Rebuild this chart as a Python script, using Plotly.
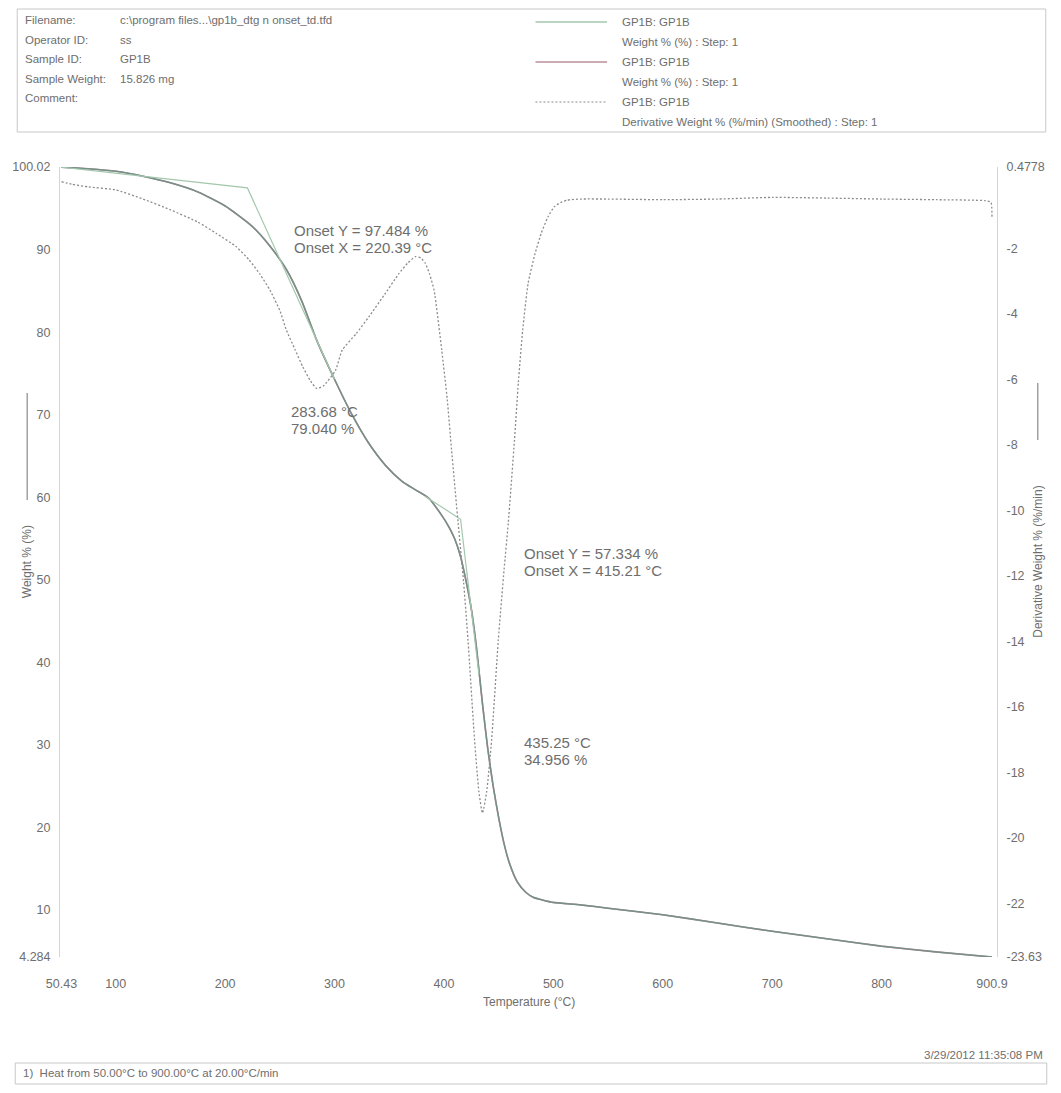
import plotly.graph_objects as go

# ---------------- data ----------------
temp_wt = [50.43, 75, 100, 125, 150, 175, 200, 225, 240, 256, 270, 283.68, 300, 316, 331,
           347, 362, 374, 386, 398, 405, 410, 415, 420, 425, 430, 435.25, 440, 445, 450,
           455, 460, 467, 475, 482, 490, 500, 525, 550, 600, 650, 700, 750, 800, 850, 900.9]
weight_pct = [100.0, 99.8, 99.5, 98.9, 98.1, 97.0, 95.3, 92.8, 90.6, 87.6, 83.8, 79.04, 74.3, 70.0, 66.6,
              63.8, 61.9, 60.9, 59.9, 57.8, 56.3, 54.9, 52.9, 50.0, 46.5, 41.5, 34.956, 29.6, 25.0, 21.2,
              18.0, 15.6, 13.4, 12.1, 11.5, 11.2, 10.9, 10.6, 10.2, 9.4, 8.4, 7.4, 6.5, 5.6, 4.9, 4.284]

temp_dtg = [50.43, 60, 75, 100, 125, 150, 175, 192, 210, 222, 232, 241, 250, 256, 264, 271, 278,
            283.68, 290, 301, 307, 320, 331.5, 345, 359, 367, 374, 379, 383, 387, 391, 398, 403,
            407, 413, 418, 422, 428, 432, 435.25, 439, 443.6, 449.7, 455, 458.8, 464.5, 468, 472,
            477, 483, 489, 495, 501, 507, 513, 525, 550, 600, 650, 700, 750, 800, 850, 895, 900, 900.9]
deriv_wt = [0.03, -0.05, -0.13, -0.22, -0.5, -0.83, -1.2, -1.55, -1.95, -2.36, -2.8, -3.28, -3.9,
            -4.5, -5.1, -5.62, -6.05, -6.28, -6.2, -5.72, -5.11, -4.6, -4.09, -3.45, -2.77, -2.45,
            -2.26, -2.3, -2.46, -2.8, -3.28, -5.11, -6.6, -8.16, -10.39, -12.2, -13.96, -17.01,
            -18.6, -19.24, -18.6, -17.01, -13.96, -11.8, -10.39, -7.85, -6.11, -4.5, -3.06, -2.2,
            -1.54, -1.05, -0.73, -0.6, -0.53, -0.5, -0.5, -0.52, -0.5, -0.45, -0.47, -0.5, -0.52,
            -0.55, -0.6, -1.05]

onset1_x = [50.43, 220.39, 300.0]
onset1_y = [100.0, 97.484, 74.3]
onset2_x = [383.0, 415.21, 432.0]
onset2_y = [60.1, 57.334, 38.5]

x_tickvals = [50.43, 100, 200, 300, 400, 500, 600, 700, 800, 900.9]
x_ticktext = ["50.43", "100", "200", "300", "400", "500", "600", "700", "800", "900.9"]
y_tickvals = [4.284, 10, 20, 30, 40, 50, 60, 70, 80, 90, 100.02]
y_ticktext = ["4.284", "10", "20", "30", "40", "50", "60", "70", "80", "90", "100.02"]
y2_tickvals = [-23.63, -22, -20, -18, -16, -14, -12, -10, -8, -6, -4, -2, 0.4778]
y2_ticktext = ["-23.63", "-22", "-20", "-18", "-16", "-14", "-12", "-10", "-8", "-6", "-4", "-2", "0.4778"]

header_labels = ["Filename:", "Operator ID:", "Sample ID:", "Sample Weight:", "Comment:"]
header_values = ["c:\\program files...\\gp1b_dtg n onset_td.tfd", "ss", "GP1B", "15.826 mg", ""]
legend_texts = ["GP1B: GP1B", "Weight % (%) : Step: 1", "GP1B: GP1B", "Weight % (%) : Step: 1",
                "GP1B: GP1B", "Derivative Weight % (%/min) (Smoothed) : Step: 1"]

# ---------------- styling ----------------
FONT = "Liberation Sans, Arial, sans-serif"
TXT = "#6e6e6e"
W, H = 1061, 1093
L, R, T, B = 55, 997, 167, 957

GREEN = "#768f88"
RED = "#b89098"
DTGC = "#8c8c8c"
TANG = "#a3c7ad"


def P(x, y):
    return dict(x=(x - L) / (R - L), y=(B - y) / (B - T), xref="paper", yref="paper")


fig = go.Figure()
fig.add_trace(go.Scatter(x=temp_wt, y=weight_pct, mode="lines",
                         line=dict(color=RED, width=1.6, shape="spline", smoothing=0.6),
                         showlegend=False, hoverinfo="skip"))
fig.add_trace(go.Scatter(x=temp_wt, y=weight_pct, mode="lines",
                         line=dict(color=GREEN, width=1.5, shape="spline", smoothing=0.6),
                         showlegend=False, hoverinfo="skip"))
fig.add_trace(go.Scatter(x=onset1_x, y=onset1_y, mode="lines", line=dict(color=TANG, width=1.2),
                         showlegend=False, hoverinfo="skip"))
fig.add_trace(go.Scatter(x=onset2_x, y=onset2_y, mode="lines", line=dict(color=TANG, width=1.2),
                         showlegend=False, hoverinfo="skip"))
fig.add_trace(go.Scatter(x=temp_dtg, y=deriv_wt, mode="lines", yaxis="y2",
                         line=dict(color=DTGC, width=1.3, dash="2px,2px", shape="spline", smoothing=0.5),
                         showlegend=False, hoverinfo="skip"))

ann = []


def text(x, y, s, size=12, anchor="left", angle=0, yanchor="middle"):
    d = P(x, y)
    d.update(text=s, showarrow=False, xanchor=anchor, yanchor=yanchor, textangle=angle,
             font=dict(family=FONT, size=size, color=TXT))
    ann.append(d)


header_rows = [20, 39.5, 59, 79, 98]
for yy, lab, val in zip(header_rows, header_labels, header_values):
    text(18, yy, lab, 11.5)
    if val:
        text(113, yy, val, 11.5)

legend_rows = [22, 42, 62, 82, 102, 122]
for yy, s in zip(legend_rows, legend_texts):
    text(618, yy, s, 11.5)

# plot annotations
text(288, 230, "Onset Y = 97.484 %", 15)
text(288, 247, "Onset X = 220.39 °C", 15)
text(285, 411, "283.68 °C", 15)
text(285, 428, "79.040 %", 15)
text(519, 553, "Onset Y = 57.334 %", 15)
text(519, 570, "Onset X = 415.21 °C", 15)
text(519, 742, "435.25 °C", 15)
text(519, 759, "34.956 %", 15)

# axis titles
text(526, 1002, "Temperature (°C)", 12, anchor="center")
text(22, 562, "Weight % (%)", 12, anchor="center", angle=-90)
text(1038, 562, "Derivative Weight % (%/min)", 12, anchor="center", angle=-90)

# footer
text(1045, 1055, "3/29/2012 11:35:08 PM", 11.5, anchor="right")
text(16, 1073, "1)  Heat from 50.00°C to 900.00°C at 20.00°C/min", 11.5)


def rect_px(x0, y0, x1, y1, color="#c8c8c8", width=1):
    a = P(x0, y0)
    b = P(x1, y1)
    return dict(type="rect", xref="paper", yref="paper", x0=a["x"], y0=a["y"], x1=b["x"], y1=b["y"],
                line=dict(color=color, width=width))


def line_px(x0, y0, x1, y1, color, width=1.2, dash="solid"):
    a = P(x0, y0)
    b = P(x1, y1)
    return dict(type="line", xref="paper", yref="paper", x0=a["x"], y0=a["y"], x1=b["x"], y1=b["y"],
                line=dict(color=color, width=width, dash=dash))


shapes = [
    rect_px(12, 9, 1046, 132),
    rect_px(10, 1063, 1047, 1084),
    line_px(533, 22, 605, 22, TANG, 1.6),
    line_px(533, 62, 605, 62, RED, 1.6),
    line_px(533, 102, 605, 102, DTGC, 1.2, "2px,2px"),
    line_px(22, 393, 22, 500, "#8a8a8a", 1.2),
    line_px(1038, 383, 1038, 440, "#8a8a8a", 1.2),
]

tickfont = dict(family=FONT, size=12.5, color=TXT)
fig.update_layout(
    width=W, height=H,
    margin=dict(l=L, r=W - R, t=T, b=H - B, pad=0),
    paper_bgcolor="white", plot_bgcolor="white",
    showlegend=False,
    xaxis=dict(range=[49.1, 905.5], tickvals=x_tickvals, ticktext=x_ticktext, showgrid=False,
               zeroline=False, showline=False, ticks="", tickfont=tickfont, ticklabelstandoff=17),
    yaxis=dict(range=[4.284, 100.02], tickvals=y_tickvals, ticktext=y_ticktext, showgrid=False,
               zeroline=False, showline=True, linecolor="#d4d4d4", linewidth=1, ticks="",
               tickfont=tickfont, ticklabelstandoff=6),
    yaxis2=dict(range=[-23.63, 0.4778], tickvals=y2_tickvals, ticktext=y2_ticktext, overlaying="y",
                side="right", showgrid=False, zeroline=False, showline=True, linecolor="#d4d4d4",
                linewidth=1, ticks="", tickfont=tickfont, ticklabelstandoff=6),
    annotations=ann,
    shapes=shapes,
)

fig.write_html("out.html", config={"displayModeBar": False})
